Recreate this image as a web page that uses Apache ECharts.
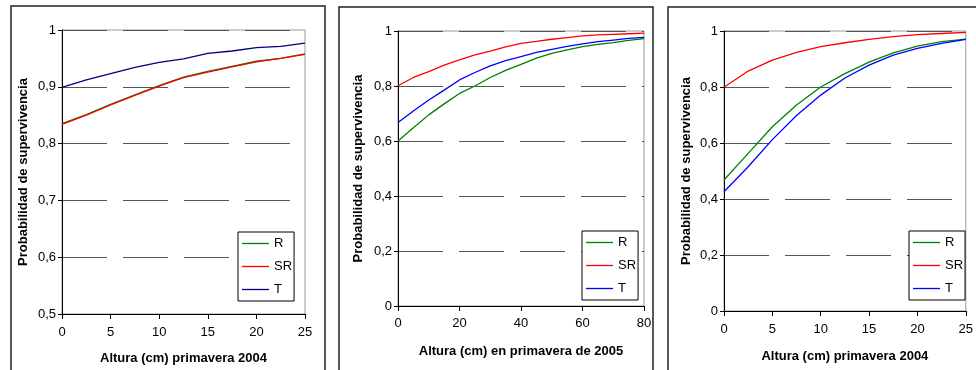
<!DOCTYPE html>
<html>
<head>
<meta charset="utf-8">
<script src="https://cdn.jsdelivr.net/npm/echarts@6/dist/echarts.min.js"></script>
<style>
  html, body { margin: 0; padding: 0; background: #fff; }
  #chart { width: 976px; height: 370px; }
</style>
</head>
<body>
<div id="chart"></div>
<script>
// panel 1: altura primavera 2004 (0-25)
const x1 = [0, 2.5, 5, 7.5, 10, 12.5, 15, 17.5, 20, 22.5, 25];
const r1 = [0.835, 0.851, 0.869, 0.886, 0.902, 0.917, 0.927, 0.936, 0.945, 0.950, 0.958];
const sr1 = [0.834, 0.850, 0.868, 0.885, 0.901, 0.916, 0.926, 0.935, 0.944, 0.950, 0.957];
const t1 = [0.899, 0.912, 0.923, 0.934, 0.943, 0.949, 0.959, 0.963, 0.969, 0.971, 0.977];

// panel 2: altura primavera 2005 (0-80)
const x2 = [0, 5, 10, 15, 20, 25, 30, 35, 40, 45, 50, 55, 60, 65, 70, 75, 80];
const r2 = [0.600, 0.648, 0.695, 0.735, 0.773, 0.800, 0.831, 0.857, 0.879, 0.901, 0.919, 0.931, 0.943, 0.951, 0.958, 0.966, 0.972];
const sr2 = [0.801, 0.831, 0.852, 0.876, 0.895, 0.913, 0.927, 0.942, 0.955, 0.962, 0.970, 0.976, 0.982, 0.986, 0.988, 0.990, 0.992];
const t2 = [0.667, 0.709, 0.749, 0.785, 0.822, 0.849, 0.873, 0.892, 0.907, 0.922, 0.933, 0.944, 0.953, 0.961, 0.967, 0.973, 0.977];

// panel 3: altura primavera 2004 (0-25)
const x3 = [0, 2.5, 5, 7.5, 10, 12.5, 15, 17.5, 20, 22.5, 25];
const r3 = [0.468, 0.563, 0.658, 0.736, 0.800, 0.848, 0.889, 0.922, 0.946, 0.962, 0.971];
const sr3 = [0.799, 0.857, 0.896, 0.924, 0.944, 0.958, 0.970, 0.980, 0.987, 0.991, 0.995];
const t3 = [0.426, 0.515, 0.612, 0.698, 0.771, 0.832, 0.878, 0.914, 0.938, 0.956, 0.970];

const yTitle = 'Probabilidad de supervivencia';
const xTitles = ['Altura (cm) primavera 2004', 'Altura (cm) en primavera de 2005', 'Altura (cm) primavera 2004'];

const GREEN = '#008000', RED = '#ff0000', NAVY = '#000080', BLUE = '#0000ff';
const FONT = '"Liberation Sans", Arial, sans-serif';

const pairs = (xs, ys) => xs.map((x, i) => [x, ys[i]]);
const comma = v => String(+v.toFixed(1)).replace('.', ',');

const grids = [
  { left: 62, top: 30, width: 243, height: 284 },
  { left: 398, top: 31, width: 246, height: 275 },
  { left: 724, top: 31, width: 249, height: 280 },
].map(g => ({ ...g, show: true, borderColor: '#999', borderWidth: 1, backgroundColor: 'transparent' }));

function xAxis(i, max, interval, margin, gap) {
  return {
    type: 'value', gridIndex: i, min: 0, max, interval,
    name: xTitles[i], nameLocation: 'middle', nameGap: gap,
    nameTextStyle: { fontFamily: FONT, fontSize: 13, fontWeight: 'bold', color: '#000' },
    axisLine: { show: true, lineStyle: { color: '#000', width: 1 } },
    axisTick: { show: true, inside: false, length: 5, lineStyle: { color: '#000' } },
    axisLabel: { fontFamily: FONT, fontSize: 13, color: '#000', margin },
    splitLine: { show: false },
  };
}
function yAxis(i, min, interval, gap) {
  return {
    type: 'value', gridIndex: i, min, max: 1, interval,
    name: yTitle, nameLocation: 'middle', nameGap: gap, nameRotate: 90,
    nameTextStyle: { fontFamily: FONT, fontSize: 13, fontWeight: 'bold', color: '#000' },
    axisLine: { show: true, lineStyle: { color: '#000', width: 1 } },
    axisTick: { show: true, inside: false, length: 4, lineStyle: { color: '#000' } },
    axisLabel: { fontFamily: FONT, fontSize: 13, color: '#000', margin: 6, formatter: comma },
    splitLine: { show: true, lineStyle: { color: '#555', width: 1, type: [45, 16] } },
  };
}

function line(name, i, xs, ys, color) {
  return {
    name, type: 'line', xAxisIndex: i, yAxisIndex: i,
    data: pairs(xs, ys), symbol: 'none', smooth: false,
    lineStyle: { color, width: 1.3 }, itemStyle: { color },
    z: name === 'SR' ? 3 : 2,
  };
}

function legend(left, top, tColor) {
  return {
    orient: 'vertical', left, top, padding: [5, 2, 5, 4], itemGap: 10,
    itemWidth: 27, itemHeight: 1.3, icon: 'rect',
    borderColor: '#000', borderWidth: 1, backgroundColor: '#fff',
    textStyle: { fontFamily: FONT, fontSize: 13, color: '#000' },
    selectedMode: false,
    data: [
      { name: 'R', itemStyle: { color: GREEN } },
      { name: 'SR', itemStyle: { color: RED } },
      { name: 'T', itemStyle: { color: tColor } },
    ],
  };
}

const chart = echarts.init(document.getElementById('chart'), null, { renderer: 'canvas' });
chart.setOption({
  animation: false,
  backgroundColor: '#fff',
  grid: grids,
  xAxis: [xAxis(0, 25, 5, 12, 38), xAxis(1, 80, 20, 11, 39), xAxis(2, 25, 5, 12, 39)],
  yAxis: [yAxis(0, 0.5, 0.1, 32), yAxis(1, 0, 0.2, 33), yAxis(2, 0, 0.2, 31)],
  legend: [legend(238, 232, NAVY), legend(582, 231, BLUE), legend(909, 231, BLUE)],
  graphic: [
    { type: 'rect', shape: { x: 11, y: 6, width: 314, height: 400 }, style: { fill: 'none', stroke: '#222', lineWidth: 1.5 }, silent: true },
    { type: 'rect', shape: { x: 339, y: 7, width: 314, height: 400 }, style: { fill: 'none', stroke: '#222', lineWidth: 1.5 }, silent: true },
    { type: 'rect', shape: { x: 668, y: 7, width: 330, height: 400 }, style: { fill: 'none', stroke: '#222', lineWidth: 1.5 }, silent: true },
  ],
  series: [
    line('R', 0, x1, r1, GREEN), line('SR', 0, x1, sr1, RED), line('T', 0, x1, t1, NAVY),
    line('R', 1, x2, r2, GREEN), line('SR', 1, x2, sr2, RED), line('T', 1, x2, t2, BLUE),
    line('R', 2, x3, r3, GREEN), line('SR', 2, x3, sr3, RED), line('T', 2, x3, t3, BLUE),
  ],
});
</script>
</body>
</html>
